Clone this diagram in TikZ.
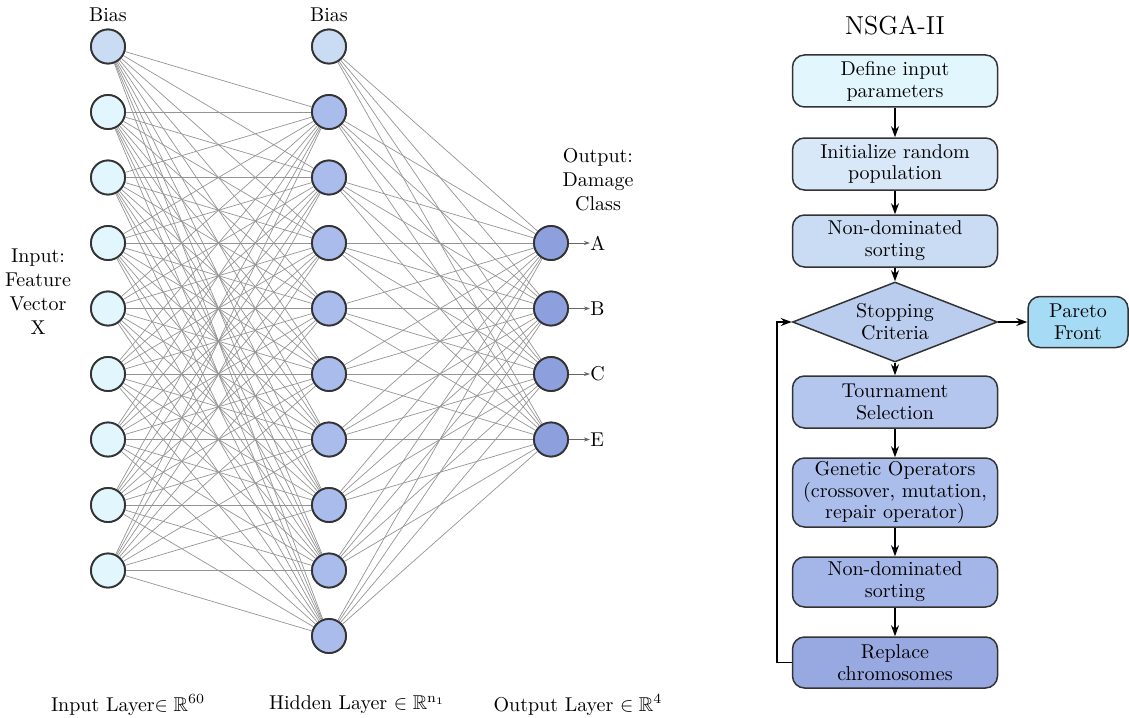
\documentclass[tikz,border=0pt]{standalone}
\usepackage{amssymb}
\usetikzlibrary{shapes.geometric,arrows.meta}
\definecolor{cin}{HTML}{E2F6FD}
\definecolor{cbias}{HTML}{CADCF4}
\definecolor{chid}{HTML}{A9BCEB}
\definecolor{cout}{HTML}{8E9FDD}
\definecolor{fa}{HTML}{E2F6FD}
\definecolor{fb}{HTML}{D8E8F8}
\definecolor{fc}{HTML}{CADCF4}
\definecolor{fd}{HTML}{BBCDEF}
\definecolor{fe}{HTML}{B4C6EE}
\definecolor{ff}{HTML}{ABBDEB}
\definecolor{fg}{HTML}{A4B5E7}
\definecolor{fh}{HTML}{98A9E1}
\definecolor{fp}{HTML}{A6DBF5}
\tikzset{
  neuron/.style={circle,draw=black!80,line width=0.9pt,minimum size=17pt,inner sep=0pt},
  syn/.style={draw=black!42,line width=0.35pt},
  txt/.style={align=center,font=\fontsize{10}{12}\selectfont,inner sep=0pt},
  fbox/.style={rectangle,rounded corners=6pt,draw=black!80,line width=0.75pt,minimum width=102.5pt,align=center,font=\fontsize{10}{10.9}\selectfont,inner sep=1pt},
  flow/.style={-{Stealth[length=5.5pt,width=4pt]},line width=0.6pt},
  outarr/.style={-{Stealth[length=3pt,width=2pt]},draw=black!60,line width=0.4pt}
}
\begin{document}
\begin{tikzpicture}[x=0.5pt,y=-0.5pt]
\useasboundingbox (0,0) rectangle (1129,717);
% input layer
\node[neuron,fill=cbias] (i0) at (108,46.5) {};
\foreach \k in {1,...,8} {\node[neuron,fill=cin] (i\k) at (108,46.5+65.5*\k) {};}
% hidden layer
\node[neuron,fill=cbias] (h0) at (329,46.5) {};
\foreach \k in {1,...,9} {\node[neuron,fill=chid] (h\k) at (329,46.5+65.5*\k) {};}
% output layer
\foreach \k/\l in {1/A,2/B,3/C,4/E} {
  \node[neuron,fill=cout] (o\k) at (551,177.5+65.5*\k) {};
  \node[txt,anchor=west] (l\k) at (590,177.5+65.5*\k) {\l};
}
% connections
\foreach \a in {0,...,8} {\foreach \b in {1,...,9} {\draw[syn] (i\a) -- (h\b);}}
\foreach \a in {0,...,9} {\foreach \b in {1,...,4} {\draw[syn] (h\a) -- (o\b);}}
% redraw nodes on top
\node[neuron,fill=cbias] at (i0) {};
\foreach \k in {1,...,8} {\node[neuron,fill=cin] at (i\k) {};}
\node[neuron,fill=cbias] at (h0) {};
\foreach \k in {1,...,9} {\node[neuron,fill=chid] at (h\k) {};}
\foreach \k in {1,...,4} {\node[neuron,fill=cout] at (o\k) {}; \draw[outarr] (o\k) -- (l\k);}
% labels
\node[txt] (b1) at (108,15) {Bias};
\node[txt] (b2) at (329,15) {Bias};
\node[txt] (inlab) at (38,292) {Input:\\Feature\\Vector\\X};
\node[txt] (outlab) at (598,180) {Output:\\Damage\\Class};
\node[txt] (L1) at (128,705) {Input Layer$\in\mathbb{R}^{60}$};
\node[txt] (L2) at (357,705) {Hidden Layer $\in\mathbb{R}^{\mathrm{n}_1}$};
\node[txt] (L3) at (578,705) {Output Layer $\in\mathbb{R}^{4}$};
% flowchart
\node[txt,font=\fontsize{13}{15}\selectfont] (title) at (895,25) {NSGA-II};
\node[fbox,fill=fa,minimum height=26pt] (s1) at (895,81) {Define input\\parameters};
\node[fbox,fill=fb,minimum height=26pt] (s2) at (895,164) {Initialize random\\population};
\node[fbox,fill=fc,minimum height=26pt] (s3) at (895,241) {Non-dominated\\sorting};
\node[diamond,draw=black!80,line width=0.75pt,fill=fd,aspect=2.56,minimum width=102.5pt,minimum height=40pt,inner sep=0pt,align=center,font=\fontsize{10}{10.9}\selectfont] (s4) at (895,322) {Stopping\\Criteria};
\node[fbox,fill=fe,minimum height=26pt] (s5) at (895,402) {Tournament\\Selection};
\node[fbox,fill=ff,minimum height=34.5pt] (s6) at (895,492.5) {Genetic Operators\\(crossover, mutation,\\repair operator)};
\node[fbox,fill=fg,minimum height=25pt] (s7) at (895,582) {Non-dominated\\sorting};
\node[fbox,fill=fh,minimum height=25.5pt] (s8) at (895,662.5) {Replace\\chromosomes};
\node[fbox,fill=fp,minimum width=50pt,minimum height=25.5pt] (par) at (1078,322) {Pareto\\Front};
\coordinate (lb) at (777,662.5);
\coordinate (lt) at (777,322);
\draw[flow] (s1) -- (s2);
\draw[flow] (s2) -- (s3);
\draw[flow] (s3) -- (s4);
\draw[flow] (s4) -- (s5);
\draw[flow] (s5) -- (s6);
\draw[flow] (s6) -- (s7);
\draw[flow] (s7) -- (s8);
\draw[flow] (s4) -- (par);
\draw[flow] (s8.west) -- (lb) -- (lt) -- (s4.west);
\end{tikzpicture}
\end{document}
